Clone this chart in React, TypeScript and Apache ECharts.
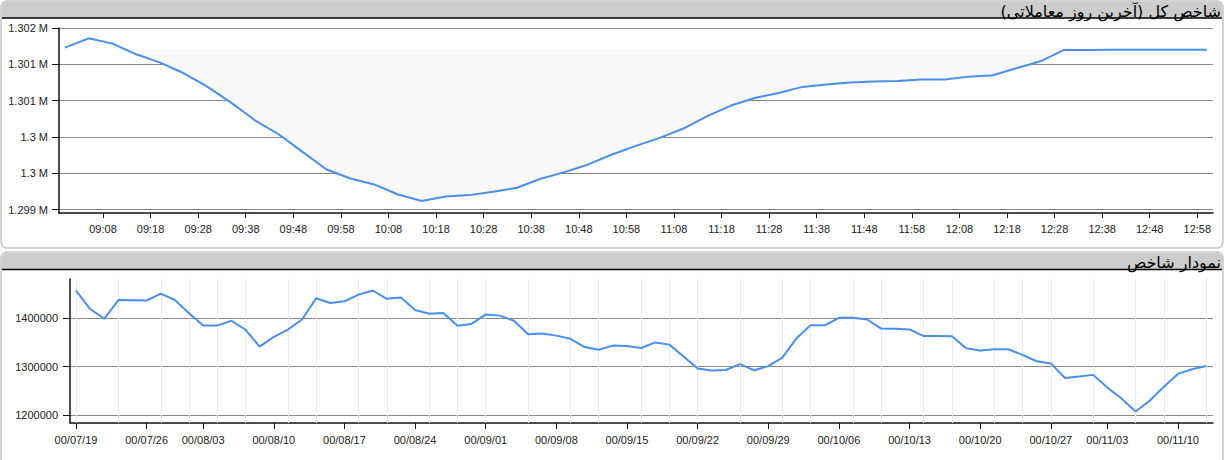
import React, { useEffect, useRef } from "react";
import * as echarts from "echarts";

// ---------- Top chart: intraday index (last trading day) ----------
const topTitle = "شاخص کل (آخرین روز معاملاتی)";
const topTimes = [
  "09:00", "09:05", "09:10", "09:15", "09:20", "09:25", "09:30", "09:35", "09:40", "09:45",
  "09:50", "09:55", "10:00", "10:05", "10:10", "10:15", "10:20", "10:25", "10:30", "10:35",
  "10:40", "10:45", "10:50", "10:55", "11:00", "11:05", "11:10", "11:15", "11:20", "11:25",
  "11:30", "11:35", "11:40", "11:45", "11:50", "11:55", "12:00", "12:05", "12:10", "12:15",
  "12:20", "12:25", "12:30", "12:35", "12:40", "12:45", "12:50", "12:55", "13:00",
];
const topValues = [
  1301730, 1301858, 1301785, 1301638, 1301524, 1301377, 1301189, 1300970, 1300727, 1300535,
  1300292, 1300054, 1299930, 1299848, 1299710, 1299619, 1299683, 1299701, 1299747, 1299802,
  1299926, 1300017, 1300123, 1300260, 1300378, 1300489, 1300617, 1300787, 1300933, 1301038,
  1301107, 1301190, 1301222, 1301249, 1301263, 1301272, 1301290, 1301290, 1301331, 1301350,
  1301446, 1301542, 1301698, 1301698, 1301700, 1301700, 1301700, 1301700, 1301700,
];
const topBaseline = 1301716;
const topTickLabels = [
  "09:08", "09:18", "09:28", "09:38", "09:48", "09:58", "10:08", "10:18", "10:28", "10:38",
  "10:48", "10:58", "11:08", "11:18", "11:28", "11:38", "11:48", "11:58", "12:08", "12:18",
  "12:28", "12:38", "12:48", "12:58",
];
const topYTicks = [1299500, 1300000, 1300500, 1301000, 1301500, 1302000];

// ---------- Bottom chart: index history (trading days) ----------
const bottomTitle = "نمودار شاخص";
const bottomValues = [
  1456000, 1418000, 1398000, 1436500, 1436000, 1435500, 1449500, 1436500, 1409500, 1384000,
  1384000, 1394000, 1375500, 1341000, 1361000, 1376000, 1396500, 1440000, 1430500, 1434000,
  1447500, 1456000, 1439000, 1441500, 1416000, 1408500, 1410000, 1383500, 1387500, 1407000,
  1404500, 1394000, 1366500, 1368000, 1363500, 1357000, 1340000, 1334500, 1343000, 1342000,
  1338000, 1349500, 1345000, 1320500, 1296000, 1292000, 1293000, 1305000, 1292500, 1301000,
  1318500, 1358000, 1385000, 1384500, 1400000, 1400000, 1396500, 1378000, 1377500, 1376000,
  1362500, 1362500, 1362000, 1337500, 1333000, 1335500, 1335500, 1324000, 1311000, 1306500,
  1276500, 1279500, 1283000, 1257000, 1234500, 1208000, 1230000, 1258500, 1285000, 1294500,
  1301000,
];
const bottomLabelIndex = [0, 5, 9, 14, 19, 24, 29, 34, 39, 44, 49, 54, 59, 64, 69, 73, 78];
const bottomLabelText = [
  "00/07/19", "00/07/26", "00/08/03", "00/08/10", "00/08/17", "00/08/24", "00/09/01",
  "00/09/08", "00/09/15", "00/09/22", "00/09/29", "00/10/06", "00/10/13", "00/10/20",
  "00/10/27", "00/11/03", "00/11/10",
];
const bottomMinorGrid = [
  0, 3, 6, 8, 10, 12, 15, 17, 20, 22, 25, 27, 29, 32, 35, 37, 40, 42, 44, 47, 50, 52,
  55, 57, 60, 62, 65, 67, 69, 72, 75, 77, 80,
];
const bottomYTicks = [1200000, 1300000, 1400000];

const toMin = (t: string) => {
  const [h, m] = t.split(":").map(Number);
  return h * 60 + m;
};
const pad2 = (n: number) => (n < 10 ? "0" + n : "" + n);
const fromMin = (v: number) => pad2(Math.floor(v / 60)) + ":" + pad2(Math.round(v % 60));

const LATIN = '"Liberation Sans", Arial, sans-serif';
const TITLE_FONT = '16px "DejaVu Sans", sans-serif';

export default function App() {
  const ref = useRef<HTMLDivElement>(null);
  useEffect(() => {
    document.body.style.margin = "0";
    if (!ref.current) return;
    const chart = echarts.init(ref.current, undefined, { renderer: "svg" });

    const axisLabelBase = { fontSize: 11, color: "#222", fontFamily: LATIN };
    const axisLineStyle = { color: "#111", width: 1.5 };

    const topTickMin = topTickLabels.map(toMin);
    const topLine = topTimes.map((t, i) => [toMin(t), topValues[i]]);
    const topArea = topTimes.map((t, i) => [toMin(t), Math.min(topValues[i], topBaseline)]);
    const bottomLine = bottomValues.map((v, i) => [i, v]);

    const option: any = {
      animation: false,
      backgroundColor: "#ffffff",
      graphic: [
        { type: "rect", z: -10, shape: { x: 1, y: 1, width: 1222, height: 247, r: 6 }, style: { fill: "#fff", stroke: "#c4c4c4", lineWidth: 1.5 } },
        { type: "rect", z: -9, shape: { x: 2, y: 2, width: 1220, height: 16, r: [5, 5, 0, 0] }, style: { fill: "#cccccc" } },
        { type: "line", z: -8, shape: { x1: 2, y1: 18, x2: 1222, y2: 18 }, style: { stroke: "#000", lineWidth: 1.5 } },
        { type: "text", z: 5, x: 1221, y: 11, style: { text: topTitle, align: "right", verticalAlign: "middle", font: TITLE_FONT, fill: "#000" } },

        { type: "rect", z: -10, shape: { x: 1, y: 252, width: 1222, height: 230, r: 6 }, style: { fill: "#fff", stroke: "#c4c4c4", lineWidth: 1.5 } },
        { type: "rect", z: -9, shape: { x: 2, y: 253, width: 1220, height: 16, r: [5, 5, 0, 0] }, style: { fill: "#cccccc" } },
        { type: "line", z: -8, shape: { x1: 2, y1: 269.5, x2: 1222, y2: 269.5 }, style: { stroke: "#000", lineWidth: 1.5 } },
        { type: "text", z: 5, x: 1221, y: 262, style: { text: bottomTitle, align: "right", verticalAlign: "middle", font: TITLE_FONT, fill: "#000" } },
      ],
      grid: [
        { left: 59, top: 28, width: 1154, height: 185 },
        { left: 70, top: 279, width: 1143, height: 144 },
      ],
      xAxis: [
        {
          gridIndex: 0, type: "value", min: 538.75, max: 781.3,
          axisLine: { show: true, onZero: false, lineStyle: axisLineStyle },
          axisTick: { show: true, customValues: topTickMin, length: 5, lineStyle: { color: "#111" } },
          axisLabel: { ...axisLabelBase, customValues: topTickMin, margin: 10, formatter: (v: number) => fromMin(v) },
          splitLine: { show: false },
        },
        {
          gridIndex: 1, type: "value", min: -0.425, max: 80.48,
          axisLine: { show: true, onZero: false, lineStyle: axisLineStyle },
          axisTick: { show: true, customValues: bottomLabelIndex, length: 6, lineStyle: { color: "#111" } },
          axisLabel: {
            ...axisLabelBase, customValues: bottomLabelIndex, margin: 11,
            formatter: (v: number) => bottomLabelText[bottomLabelIndex.indexOf(Math.round(v))] ?? "",
          },
          splitLine: { show: false },
        },
      ],
      yAxis: [
        {
          gridIndex: 0, type: "value", min: 1299455, max: 1302000,
          axisLine: { show: true, onZero: false, lineStyle: axisLineStyle },
          axisTick: { show: true, customValues: topYTicks, length: 7, lineStyle: { color: "#111" } },
          axisLabel: { ...axisLabelBase, customValues: topYTicks, margin: 11, formatter: (v: number) => Math.floor(v / 1000) / 1000 + " M" },
          splitLine: { show: true, lineStyle: { color: "#888", width: 1 } },
        },
        {
          gridIndex: 1, type: "value", min: 1184300, max: 1479600,
          axisLine: { show: true, onZero: false, lineStyle: axisLineStyle },
          axisTick: { show: true, customValues: bottomYTicks, length: 7, lineStyle: { color: "#111" } },
          axisLabel: { ...axisLabelBase, customValues: bottomYTicks, margin: 12, formatter: (v: number) => String(v) },
          splitLine: { show: true, lineStyle: { color: "#888", width: 1 } },
        },
      ],
      series: [
        {
          type: "line", xAxisIndex: 0, yAxisIndex: 0, data: topArea, showSymbol: false, silent: true, z: 1,
          lineStyle: { width: 0, opacity: 0 },
          areaStyle: { color: "#f9f9f9", opacity: 1, origin: topBaseline },
        },
        {
          type: "line", xAxisIndex: 0, yAxisIndex: 0, data: topLine, showSymbol: false, z: 10,
          lineStyle: { color: "#4a8ef0", width: 2 },
        },
        {
          type: "line", xAxisIndex: 1, yAxisIndex: 1, data: bottomLine, showSymbol: false, z: 10,
          lineStyle: { color: "#4a8ef0", width: 2 },
          markLine: {
            silent: true, symbol: ["none", "none"], label: { show: false },
            lineStyle: { color: "#ebebeb", width: 1, type: "solid" },
            emphasis: { disabled: true },
            data: bottomMinorGrid.map((i) => ({ xAxis: i })),
          },
        },
      ],
    };
    chart.setOption(option);
    return () => chart.dispose();
  }, []);
  return <div ref={ref} style={{ width: 1231, height: 460 }} />;
}
